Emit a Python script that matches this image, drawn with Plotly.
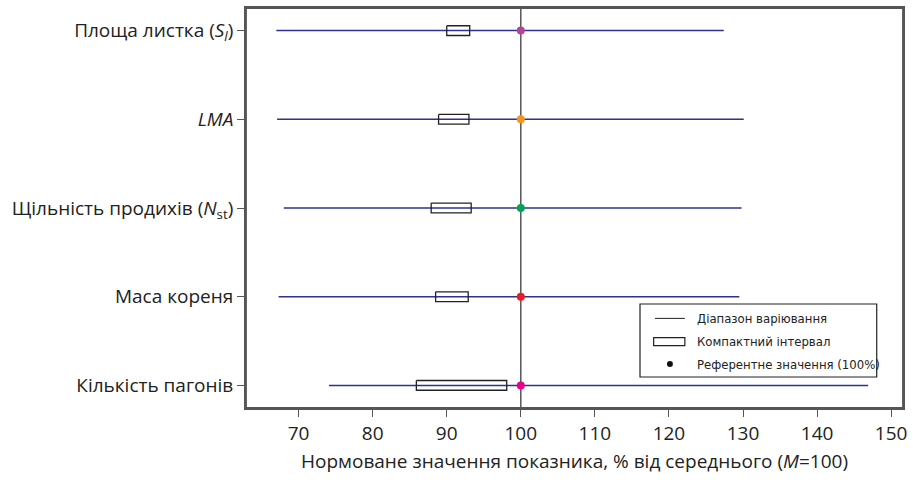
import plotly.graph_objects as go

categories = [
    "Площа листка (<i>S</i><sub><i>l</i></sub>)",
    "<i>LMA</i>",
    "Щільність продихів (<i>N</i><sub>st</sub>)",
    "Маса кореня",
    "Кількість пагонів",
]
range_min = [67.0, 67.1, 68.0, 67.3, 74.1]
range_max = [127.4, 130.1, 129.8, 129.5, 146.9]
compact_lo = [90.0, 88.9, 87.9, 88.5, 85.9]
compact_hi = [93.1, 93.0, 93.3, 92.9, 98.1]
reference = [100, 100, 100, 100, 100]
point_colors = ["#B0449A", "#F7941D", "#00A651", "#ED1C24", "#EC008C"]
x_ticks = [70, 80, 90, 100, 110, 120, 130, 140, 150]

FONT = "Open Sans, Noto Sans, sans-serif"
NARROW = "Liberation Sans Narrow, DejaVu Sans Condensed, sans-serif"
LINE_BLUE = "#2E3192"
AXIS_GREY = "#555555"

ypos = list(range(len(categories)))
half_h = 0.055

fig = go.Figure()

# reference vertical line at 100 (under the marks)
fig.add_vline(x=100, line=dict(color=AXIS_GREY, width=1.5), layer="below")

# variation ranges
for i, y in enumerate(ypos):
    fig.add_trace(go.Scatter(
        x=[range_min[i], range_max[i]], y=[y, y], mode="lines",
        line=dict(color=LINE_BLUE, width=1.5), showlegend=False, hoverinfo="skip"))

# compact intervals
for i, y in enumerate(ypos):
    lo, hi = compact_lo[i], compact_hi[i]
    fig.add_trace(go.Scatter(
        x=[lo, hi, hi, lo, lo], y=[y - half_h, y - half_h, y + half_h, y + half_h, y - half_h],
        mode="lines", line=dict(color="#222222", width=1.3), showlegend=False, hoverinfo="skip"))

# reference points
fig.add_trace(go.Scatter(
    x=reference, y=ypos, mode="markers",
    marker=dict(color=point_colors, size=8, line=dict(width=0)),
    showlegend=False, hoverinfo="skip"))

# plot frame
fig.add_shape(type="rect", xref="paper", yref="paper", x0=0, x1=1, y0=0, y1=1,
              line=dict(color=AXIS_GREY, width=1.8), fillcolor="rgba(0,0,0,0)", layer="above")

# manual legend (paper coordinates)
lx0, lx1, ly0, ly1 = 0.5997, 0.960, 0.0775, 0.26
fig.add_shape(type="rect", xref="paper", yref="paper", x0=lx0, x1=lx1, y0=ly0, y1=ly1,
              line=dict(color="#222222", width=1.2), fillcolor="white", layer="above")
rows = [0.224, 0.166, 0.110]
fig.add_shape(type="line", xref="paper", yref="paper", x0=0.6225, x1=0.668, y0=rows[0], y1=rows[0],
              line=dict(color="#222222", width=1), layer="above")
fig.add_shape(type="rect", xref="paper", yref="paper", x0=0.6205, x1=0.668, y0=rows[1] - 0.010, y1=rows[1] + 0.010,
              line=dict(color="#222222", width=1.2), fillcolor="white", layer="above")
fig.add_shape(type="circle", xref="paper", yref="paper", x0=0.6407, x1=0.6498, y0=rows[2] - 0.0075, y1=rows[2] + 0.0075,
              line=dict(color="#111111", width=0), fillcolor="#111111", layer="above")
legend_texts = ["Діапазон варіювання", "Компактний інтервал", "Референтне значення (100%)"]
for t, yy in zip(legend_texts, rows):
    fig.add_annotation(xref="paper", yref="paper", x=0.683, y=yy, text=t, showarrow=False,
                       xanchor="left", yanchor="middle",
                       font=dict(family=NARROW, size=13, color="#222222"))

fig.update_layout(
    width=913, height=483,
    margin=dict(l=246, r=10, t=8, b=75),
    paper_bgcolor="white", plot_bgcolor="white",
    font=dict(family=FONT, size=19, color="#222222"),
    showlegend=False,
)
fig.update_xaxes(
    range=[62.9, 151.6], tickvals=x_ticks, ticks="outside", ticklen=7, tickwidth=1.2,
    tickcolor=AXIS_GREY, showline=True, linecolor=AXIS_GREY, linewidth=1.8, mirror=True,
    showgrid=False, zeroline=False, tickfont=dict(size=19), automargin=False,
    title=dict(text="Нормоване значення показника, % від середнього (<i>M</i>=100)",
               font=dict(size=19), standoff=10),
)
fig.update_yaxes(
    range=[4.255, -0.255], tickvals=ypos, ticktext=categories, ticks="outside", ticklen=7,
    tickwidth=1.2, tickcolor=AXIS_GREY, showline=True, linecolor=AXIS_GREY, linewidth=1.8,
    mirror=True, showgrid=False, zeroline=False, tickfont=dict(size=19), automargin=False,
)

# remove the default 8px page margin so the figure fills the window exactly
fig.write_html(
    "out.html",
    config={"displayModeBar": False},
    post_script="document.body.style.margin='0';document.body.style.overflow='hidden';",
)
